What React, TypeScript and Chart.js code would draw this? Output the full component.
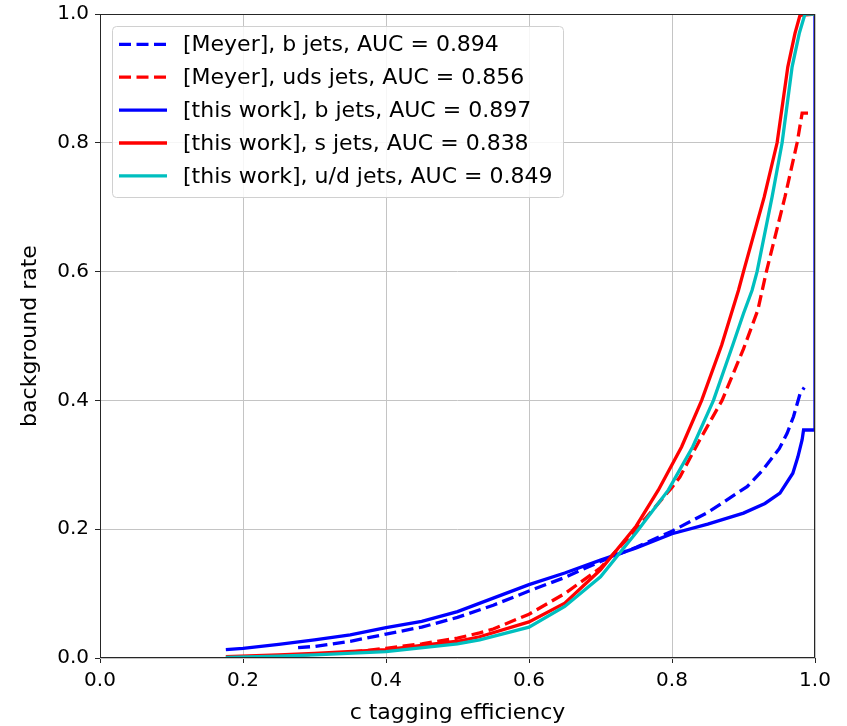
import React, { useEffect, useRef } from "react";
import { Chart, registerables } from "chart.js";

Chart.register(...registerables);

// ---- data ----
const meyerBX = [0.277, 0.30, 0.35, 0.40, 0.45, 0.50, 0.55, 0.60, 0.65, 0.70, 0.75, 0.80, 0.85, 0.905, 0.927, 0.95, 0.961, 0.97, 0.979, 0.985];
const meyerBY = [0.016, 0.018, 0.026, 0.037, 0.048, 0.063, 0.082, 0.104, 0.125, 0.150, 0.172, 0.197, 0.226, 0.266, 0.292, 0.325, 0.349, 0.375, 0.41, 0.42];

const meyerUdsX = [0.277, 0.35, 0.40, 0.45, 0.50, 0.531, 0.55, 0.60, 0.65, 0.70, 0.75, 0.80, 0.811, 0.839, 0.87, 0.90, 0.92, 0.932, 0.958, 0.975, 0.982, 0.996];
const meyerUdsY = [0.004, 0.009, 0.015, 0.022, 0.031, 0.039, 0.045, 0.068, 0.100, 0.140, 0.200, 0.265, 0.281, 0.339, 0.40, 0.48, 0.54, 0.60, 0.716, 0.80, 0.846, 0.846];

const workBX = [0.176, 0.20, 0.25, 0.30, 0.35, 0.40, 0.45, 0.50, 0.55, 0.60, 0.65, 0.70, 0.75, 0.80, 0.85, 0.90, 0.93, 0.951, 0.969, 0.976, 0.982, 0.984, 1.0, 1.0];
const workBY = [0.013, 0.015, 0.021, 0.028, 0.036, 0.047, 0.057, 0.072, 0.093, 0.114, 0.132, 0.152, 0.171, 0.193, 0.208, 0.225, 0.240, 0.256, 0.287, 0.312, 0.339, 0.354, 0.354, 1.0];

const workSX = [0.176, 0.25, 0.30, 0.40, 0.50, 0.531, 0.60, 0.65, 0.70, 0.75, 0.781, 0.8135, 0.8415, 0.8695, 0.893, 0.900, 0.929, 0.947, 0.962, 0.972, 0.979, 1.0];
const workSY = [0.002, 0.005, 0.007, 0.013, 0.026, 0.033, 0.056, 0.085, 0.137, 0.205, 0.261, 0.328, 0.40, 0.486, 0.571, 0.60, 0.716, 0.80, 0.918, 0.97, 0.998, 1.0];

const workUdX = [0.176, 0.25, 0.30, 0.40, 0.50, 0.531, 0.60, 0.65, 0.70, 0.75, 0.795, 0.829, 0.858, 0.885, 0.90, 0.912, 0.919, 0.94, 0.954, 0.968, 0.978, 0.986, 1.0];
const workUdY = [0.001, 0.003, 0.005, 0.010, 0.022, 0.028, 0.048, 0.080, 0.126, 0.195, 0.261, 0.328, 0.40, 0.486, 0.535, 0.571, 0.60, 0.716, 0.80, 0.918, 0.97, 1.0, 1.0];

const seriesLabels = [
  "[Meyer], b jets, AUC = 0.894",
  "[Meyer], uds jets, AUC = 0.856",
  "[this work], b jets, AUC = 0.897",
  "[this work], s jets, AUC = 0.838",
  "[this work], u/d jets, AUC = 0.849",
];
const seriesColors = ["#0000ff", "#ff0000", "#0000ff", "#ff0000", "#00bfbf"];
const seriesDashed = [true, true, false, false, false];

const xTitle = "c tagging efficiency";
const yTitle = "background rate";
const tickValues = [0, 0.2, 0.4, 0.6, 0.8, 1.0];

const FONT = "'DejaVu Sans', 'Liberation Sans', sans-serif";
const DASH = [12, 5.5];
const LW = 3.3;

const toPoints = (xs: number[], ys: number[]) => xs.map((x, i) => ({ x, y: ys[i] }));

const legendPlugin = {
  id: "innerLegend",
  afterDatasetsDraw(chart: any) {
    const ctx = chart.ctx as CanvasRenderingContext2D;
    const { left, top } = chart.chartArea;
    const bx = left + 12.5, by = top + 12.5, bw = 451, bh = 171, r = 4;
    ctx.save();
    ctx.beginPath();
    ctx.moveTo(bx + r, by);
    ctx.lineTo(bx + bw - r, by);
    ctx.arcTo(bx + bw, by, bx + bw, by + r, r);
    ctx.lineTo(bx + bw, by + bh - r);
    ctx.arcTo(bx + bw, by + bh, bx + bw - r, by + bh, r);
    ctx.lineTo(bx + r, by + bh);
    ctx.arcTo(bx, by + bh, bx, by + bh - r, r);
    ctx.lineTo(bx, by + r);
    ctx.arcTo(bx, by, bx + r, by, r);
    ctx.closePath();
    ctx.fillStyle = "rgba(255,255,255,0.85)";
    ctx.fill();
    ctx.strokeStyle = "#d0d0d0";
    ctx.lineWidth = 1;
    ctx.stroke();
    ctx.font = `22px ${FONT}`;
    ctx.textBaseline = "middle";
    ctx.textAlign = "left";
    for (let i = 0; i < seriesLabels.length; i++) {
      const y = top + 30.3 + i * 32.9;
      ctx.beginPath();
      ctx.setLineDash(seriesDashed[i] ? DASH : []);
      ctx.lineDashOffset = 0;
      ctx.strokeStyle = seriesColors[i];
      ctx.lineWidth = LW;
      ctx.lineCap = "butt";
      ctx.moveTo(left + 19, y);
      ctx.lineTo(left + 67, y);
      ctx.stroke();
      ctx.setLineDash([]);
      ctx.fillStyle = "#000000";
      ctx.fillText(seriesLabels[i], left + 83, y + 1);
    }
    ctx.restore();
  },
};

const framePlugin = {
  id: "frame",
  afterDraw(chart: any) {
    const ctx = chart.ctx as CanvasRenderingContext2D;
    const { left, top, right, bottom } = chart.chartArea;
    ctx.save();
    ctx.strokeStyle = "#262626";
    ctx.lineWidth = 1;
    ctx.strokeRect(left + 0.5, top + 0.5, right - left - 1, bottom - top - 1);
    ctx.restore();
  },
};

export default function App() {
  const ref = useRef<HTMLCanvasElement | null>(null);

  useEffect(() => {
    if (!ref.current) return;
    const xsList = [meyerBX, meyerUdsX, workBX, workSX, workUdX];
    const ysList = [meyerBY, meyerUdsY, workBY, workSY, workUdY];
    const orders = [4, 3, 2, 1, 0];
    const datasets = seriesLabels.map((label, i) => ({
      label,
      data: toPoints(xsList[i], ysList[i]),
      borderColor: seriesColors[i],
      backgroundColor: seriesColors[i],
      borderWidth: LW,
      borderDash: seriesDashed[i] ? DASH : [],
      pointRadius: 0,
      pointHoverRadius: 0,
      tension: 0,
      fill: false,
      clip: 0,
      order: orders[i],
    }));

    const axisCommon = (title: string, isY: boolean) => ({
      type: "linear" as const,
      min: 0,
      max: 1,
      afterBuildTicks: (scale: any) => {
        scale.ticks = tickValues.map((v) => ({ value: v }));
      },
      afterFit: (scale: any) => {
        if (isY) scale.width = 100;
        else scale.height = 68;
        scale.paddingTop = 0;
        scale.paddingBottom = 0;
        scale.paddingLeft = 0;
        scale.paddingRight = 0;
      },
      ticks: {
        color: "#000000",
        font: { family: FONT, size: 20 },
        padding: 6,
        maxRotation: 0,
        autoSkip: false,
        callback: (v: any) => Number(v).toFixed(1),
      },
      grid: {
        color: "#c4c4c4",
        lineWidth: 1,
        drawTicks: true,
        tickLength: 5,
        tickColor: "#262626",
        tickWidth: 1,
      },
      border: { display: false },
      title: {
        display: true,
        text: title,
        color: "#000000",
        font: { family: FONT, size: 22, lineHeight: 1 },
        padding: isY ? { top: 19.5, bottom: 0 } : { top: 0, bottom: 1.5 },
      },
    });

    const chart = new Chart(ref.current, {
      type: "line",
      data: { datasets: datasets as any },
      options: {
        responsive: false,
        animation: false,
        devicePixelRatio: 1,
        layout: { padding: { top: 14, right: 32, bottom: 0, left: 0 } },
        plugins: { legend: { display: false }, tooltip: { enabled: false } },
        scales: {
          x: axisCommon(xTitle, false) as any,
          y: axisCommon(yTitle, true) as any,
        },
      },
      plugins: [framePlugin, legendPlugin],
    });
    return () => chart.destroy();
  }, []);

  return (
    <div style={{ position: "fixed", left: 0, top: 0, width: 847, height: 726, background: "#ffffff" }}>
      <canvas ref={ref} width={847} height={726} style={{ display: "block", width: 847, height: 726 }} />
    </div>
  );
}
